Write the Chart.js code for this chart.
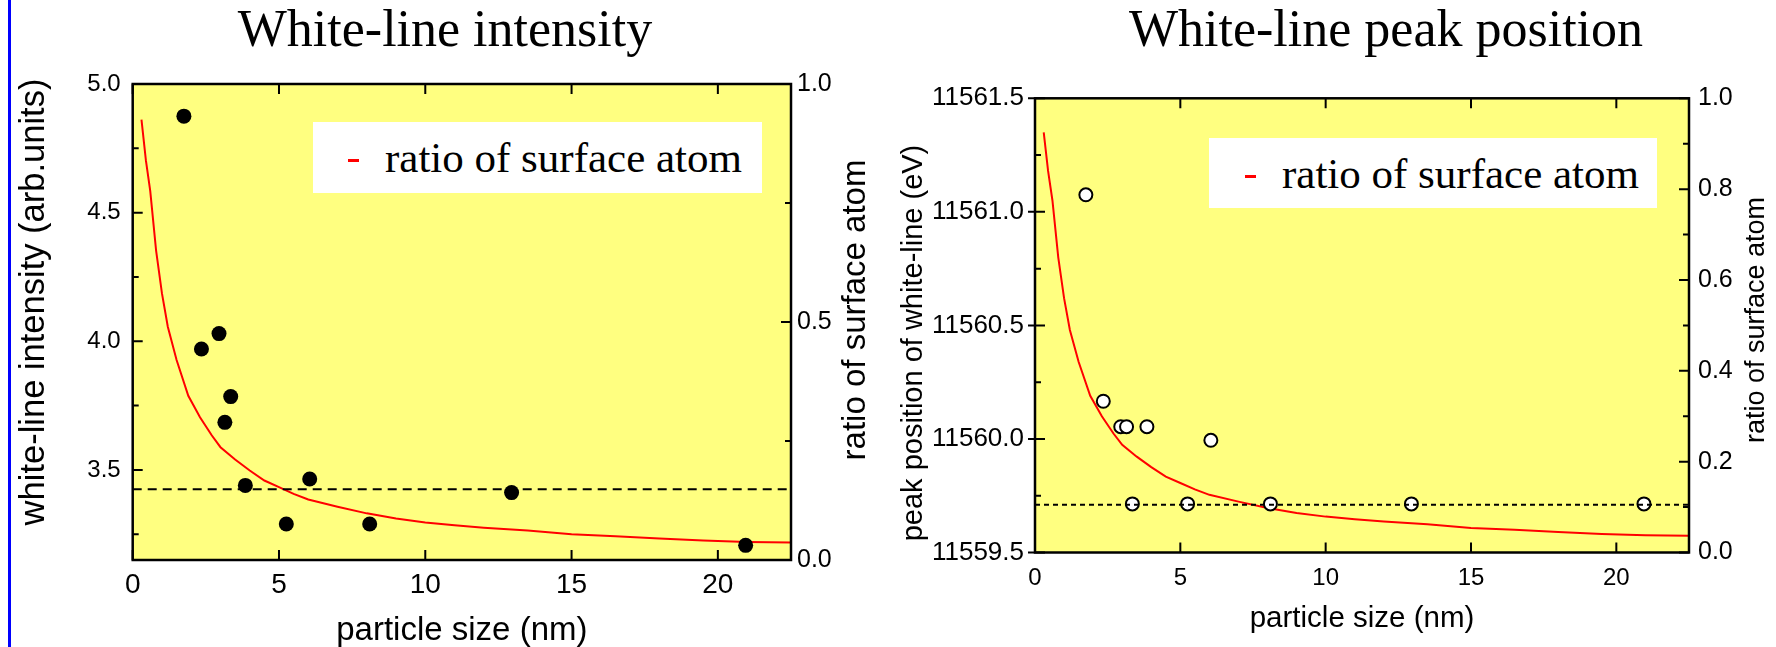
<!DOCTYPE html>
<html>
<head>
<meta charset="utf-8">
<title>White-line intensity and peak position</title>
<script src="https://cdn.jsdelivr.net/npm/chart.js@4.4.1/dist/chart.umd.min.js"></script>
<style>
  body { margin: 0; background: #fff; }
  #page { position: relative; width: 1776px; height: 647px; overflow: hidden; }
  canvas { position: absolute; top: 0; }
  .edge { position: absolute; left: 8px; top: 0; width: 3px; height: 647px; background: #0000ff; }
  .title { position: absolute; top: 3px; width: 700px; text-align: center; white-space: nowrap;
           font: 52px/1 "Liberation Serif", "Times New Roman", serif; color: #000; }
  .key { position: absolute; background: #fff; z-index: 2; }
  .key .dash { position: absolute; width: 11px; height: 3px; background: #ff0000; }
  .key .txt { position: absolute; top: 14px; white-space: nowrap; font: 43px/1 "Liberation Serif", "Times New Roman", serif; color: #000; }
</style>
</head>
<body>
<div id="page">
  <div class="edge"></div>
  <canvas id="intensityChart" width="888" height="647" style="left:0"></canvas>
  <canvas id="peakChart" width="888" height="647" style="left:888px"></canvas>
  <div class="title" style="left:95px">White-line intensity</div>
  <div class="title" style="left:1036px">White-line peak position</div>
  <div class="key" style="left:313px;top:122px;width:449px;height:71px">
    <div class="dash" style="left:35px;top:37px"></div>
    <div class="txt" style="left:72px">ratio of surface atom</div>
  </div>
  <div class="key" style="left:1209px;top:138px;width:448px;height:70px">
    <div class="dash" style="left:36px;top:37px"></div>
    <div class="txt" style="left:73px">ratio of surface atom</div>
  </div>
</div>
<script>
// samples: particle size (nm)
const sizes = [1.75, 2.35, 2.95, 3.15, 3.35, 3.85, 5.25, 6.05, 8.1, 12.95, 20.95];
// white-line intensity (arb.units)
const intensity = [4.875, 3.97, 4.03, 3.685, 3.785, 3.44, 3.29, 3.465, 3.29, 3.412, 3.207];
// white-line peak position (eV)
const peakPos = [11561.075, 11560.166, 11560.054, 11560.054, 11559.714, 11560.054, 11559.714, 11559.994, 11559.714, 11559.714, 11559.714];

// red curve: ratio of surface atom vs particle size
const curveSize  = [0.3, 0.45, 0.6, 0.8, 1.0, 1.2, 1.5, 1.9, 2.3, 2.7, 3.0, 3.5, 4.0, 4.5, 5.0, 5.5, 6.0, 7.0, 8.0, 9.0, 10.0, 11.0, 12.0, 13.5, 15.0, 16.5, 18.0, 19.5, 21.0, 22.5];
const curveRatio = [0.925, 0.84, 0.775, 0.65, 0.56, 0.49, 0.42, 0.345, 0.30, 0.262, 0.237, 0.211, 0.188, 0.167, 0.153, 0.139, 0.127, 0.112, 0.098, 0.087, 0.079, 0.073, 0.068, 0.062, 0.054, 0.050, 0.045, 0.041, 0.038, 0.037];

// dashed reference levels
const intensityRef = 3.425;
const peakRef = 11559.71;

// axes
const sizeRange = [0, 22.5];
const sizeTicks = [0, 5, 10, 15, 20];
const intensityRange = [3.15, 5.0];
const intensityTicks = [3.5, 4.0, 4.5, 5.0];
const intensityMinor = [3.25, 3.75, 4.25, 4.75];
const peakRange = [11559.5, 11561.5];
const peakTicks = [11559.5, 11560.0, 11560.5, 11561.0, 11561.5];
const peakMinor = [11559.75, 11560.25, 11560.75, 11561.25];
const ratioRange = [0, 1];
const ratioTicksL = [0, 0.5, 1.0];
const ratioMinorL = [0.25, 0.75];
const ratioTicksR = [0, 0.2, 0.4, 0.6, 0.8, 1.0];
const ratioMinorR = [0.1, 0.3, 0.5, 0.7, 0.9];

const sans = '"Liberation Sans", Arial, sans-serif';
Chart.defaults.color = '#000';
Chart.defaults.font.family = sans;

const pts = (xs, ys) => xs.map((x, i) => ({ x: x, y: ys[i] }));
const setTicks = (major, minor) => scale => {
  scale.ticks = major.concat(minor).sort((a, b) => a - b).map(v => ({ value: v }));
};
const labelOf = (major, dec) => v => major.includes(v) ? v.toFixed(dec) : '';

function vText(ctx, t) {
  ctx.save();
  ctx.translate(t.x, t.y);
  ctx.rotate(-Math.PI / 2);
  ctx.fillStyle = '#000';
  ctx.textAlign = 'center';
  ctx.textBaseline = 'middle';
  ctx.font = t.size + 'px ' + sans;
  ctx.fillText(t.text, 0, 0);
  ctx.restore();
}

// yellow plot area, frame, inward ticks, vertical axis titles
const framePlugin = {
  id: 'frame',
  beforeDraw(chart) {
    const { ctx, chartArea: a } = chart;
    ctx.save();
    ctx.fillStyle = '#ffff80';
    ctx.fillRect(a.left, a.top, a.right - a.left, a.bottom - a.top);
    ctx.restore();
  },
  afterDatasetsDraw(chart, args, o) {
    const { ctx, chartArea: a, scales } = chart;
    const { x, y, y2 } = scales;
    ctx.save();
    ctx.strokeStyle = '#000';
    ctx.lineWidth = 2;
    ctx.beginPath();
    const seg = (x1, y1, x2, y2) => { ctx.moveTo(x1, y1); ctx.lineTo(x2, y2); };
    x.ticks.forEach(t => {
      const p = x.getPixelForValue(t.value);
      seg(p, a.bottom, p, a.bottom - o.major);
      seg(p, a.top, p, a.top + o.major);
    });
    y.ticks.forEach(t => {
      const p = y.getPixelForValue(t.value);
      if (t.label) seg(a.left - o.out, p, a.left + o.major, p);
      else seg(a.left, p, a.left + o.minor, p);
    });
    y2.ticks.forEach(t => {
      const p = y2.getPixelForValue(t.value);
      seg(a.right, p, a.right - (t.label ? o.major : o.minor), p);
    });
    ctx.stroke();
    ctx.lineWidth = 2.5;
    ctx.strokeRect(a.left, a.top, a.right - a.left, a.bottom - a.top);
    ctx.restore();
    vText(ctx, o.leftTitle);
    vText(ctx, o.rightTitle);
  }
};

function makeChart(id, s) {
  return new Chart(document.getElementById(id), {
    type: 'scatter',
    data: {
      datasets: [
        {
          data: [{ x: sizeRange[0], y: s.ref }, { x: sizeRange[1], y: s.ref }],
          showLine: true, borderColor: '#000', borderWidth: 2, borderDash: s.dash,
          pointRadius: 0, yAxisID: 'y'
        },
        {
          data: pts(sizes, s.values),
          pointStyle: 'circle', pointRadius: s.radius,
          backgroundColor: s.fill, borderColor: '#000', borderWidth: s.ring,
          yAxisID: 'y'
        },
        {
          data: pts(curveSize, curveRatio),
          showLine: true, borderColor: '#ff0000', borderWidth: 2, tension: 0,
          pointRadius: 0, yAxisID: 'y2'
        }
      ]
    },
    plugins: [framePlugin],
    options: {
      responsive: false,
      animation: false,
      events: [],
      layout: { padding: { top: s.top, left: 0, right: 0, bottom: 0 } },
      plugins: {
        legend: { display: false },
        tooltip: { enabled: false },
        frame: { major: 10, minor: 6, out: s.out, leftTitle: s.leftTitle, rightTitle: s.rightTitle }
      },
      scales: {
        x: {
          type: 'linear', position: 'bottom',
          min: sizeRange[0], max: sizeRange[1],
          afterBuildTicks: setTicks(sizeTicks, []),
          afterFit: sc => { sc.height = s.xHeight; },
          grid: { display: false, drawTicks: false },
          border: { display: false },
          ticks: { autoSkip: false, maxRotation: 0, padding: s.xPad, font: { size: s.xTickSize } },
          title: { display: true, text: 'particle size (nm)', font: { size: s.xTitleSize, lineHeight: 1 }, padding: { top: 0, bottom: s.xTitlePad } }
        },
        y: {
          type: 'linear', position: 'left',
          min: s.range[0], max: s.range[1],
          afterBuildTicks: setTicks(s.ticks, s.minor),
          afterFit: sc => { sc.width = s.yWidth; },
          grid: { display: false, drawTicks: false },
          border: { display: false },
          ticks: { autoSkip: false, padding: s.yPad, font: { size: s.yTickSize }, callback: labelOf(s.ticks, 1) }
        },
        y2: {
          type: 'linear', position: 'right',
          min: ratioRange[0], max: ratioRange[1],
          afterBuildTicks: setTicks(s.rTicks, s.rMinor),
          afterFit: sc => { sc.width = s.y2Width; },
          grid: { display: false, drawTicks: false },
          border: { display: false },
          ticks: { autoSkip: false, padding: s.y2Pad, font: { size: s.y2TickSize }, callback: labelOf(s.rTicks, 1) }
        }
      }
    }
  });
}

makeChart('intensityChart', {
  values: intensity, ref: intensityRef, dash: [9, 6],
  radius: 7.5, fill: '#000', ring: 0,
  top: 84, xHeight: 87, xPad: 8, xTickSize: 28, xTitleSize: 33, xTitlePad: 0,
  range: intensityRange, ticks: intensityTicks, minor: intensityMinor,
  yWidth: 132.7, yPad: 12, yTickSize: 24,
  rTicks: ratioTicksL, rMinor: ratioMinorL, y2Width: 97, y2Pad: 6, y2TickSize: 25,
  out: 0,
  leftTitle: { text: 'white-line intensity (arb.units)', size: 34.5, x: 34, y: 302 },
  rightTitle: { text: 'ratio of surface atom', size: 33, x: 856, y: 310 }
});

makeChart('peakChart', {
  values: peakPos, ref: peakRef, dash: [5, 4],
  radius: 6.5, fill: '#fff', ring: 2,
  top: 98.3, xHeight: 94.5, xPad: 11.5, xTickSize: 24, xTitleSize: 29.5, xTitlePad: 13,
  range: peakRange, ticks: peakTicks, minor: peakMinor,
  yWidth: 147, yPad: 11, yTickSize: 26,
  rTicks: ratioTicksR, rMinor: ratioMinorR, y2Width: 87, y2Pad: 9, y2TickSize: 25,
  out: 7,
  leftTitle: { text: 'peak position of white-line (eV)', size: 29, x: 26, y: 343 },
  rightTitle: { text: 'ratio of surface atom', size: 27, x: 869, y: 320 }
});
</script>
</body>
</html>
